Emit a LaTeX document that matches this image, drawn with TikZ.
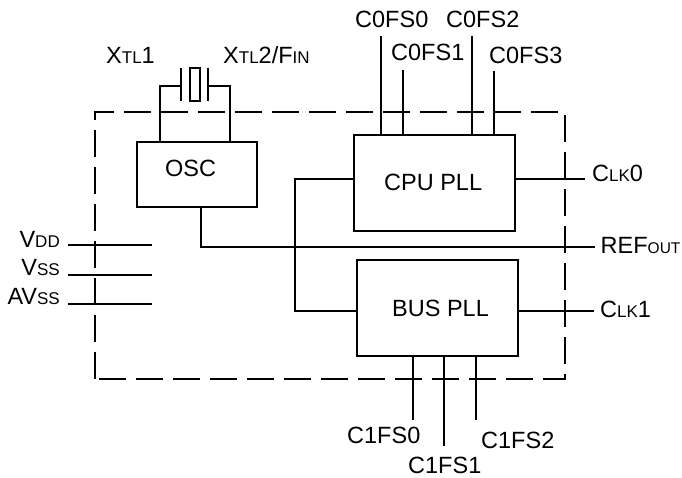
\documentclass[tikz,border=0pt]{standalone}
\usepackage{fontspec}
\setmainfont{Liberation Sans}
\newcommand{\smt}[1]{{\fontsize{17}{19}\selectfont #1}}
\newcommand{\smu}[1]{{\fontsize{15.5}{18}\selectfont #1}}
\tikzset{
  blockbox/.style={draw=black,line width=2.2pt,fill=none,inner sep=0pt},
  wire/.style={line width=1.6pt,draw=black},
  lbl/.style={inner sep=0pt,font=\fontsize{23.5}{26}\selectfont,text=black,anchor=base west},
  border/.style={draw=black,line width=1.6pt,dash pattern=on 27pt off 10pt}
}
\begin{document}
\begin{tikzpicture}[x=1pt,y=-1pt]
\useasboundingbox (0,0) rectangle (682,477);
\fill[white] (0,0) rectangle (682,477);
% dashed frame
\draw[border] (95,379) -- (95,112) -- (565,112) -- (565,379) -- cycle;
% blocks
\node[blockbox,minimum width=120pt,minimum height=65pt] (osc) at (197,174.5) {};
\node[lbl] (osctxt) at (165,176) {OSC};
\node[blockbox,minimum width=161pt,minimum height=96pt] (cpu) at (434.5,183) {};
\node[lbl] (cputxt) at (384,190) {CPU PLL};
\node[blockbox,minimum width=161pt,minimum height=96pt] (bus) at (437.5,308) {};
\node[lbl] (bustxt) at (392,316) {BUS PLL};
% crystal
\node[draw=black,line width=1.7pt,minimum width=10pt,minimum height=33pt,inner sep=0pt] (xtal) at (195,84.5) {};
\coordinate (pl) at (181,86); \coordinate (pr) at (208,86);
\draw[line width=1.7pt] (181,68) -- (181,101);
\draw[line width=1.7pt] (208,68) -- (208,101);
\draw[wire] (pl) -- (160,86) -- (160,142);
\draw[wire] (pr) -- (230,86) -- (230,142);
% top labels
\node[lbl] (x1) at (106,63) {X\smt{TL}1};
\node[lbl] (x2) at (223,63) {X\smt{TL}2/F\smt{IN}};
\node[lbl] (c0) at (355,27) {C0FS0};
\node[lbl] (c1) at (391,60) {C0FS1};
\node[lbl] (c2) at (446,27) {C0FS2};
\node[lbl] (c3) at (489,63) {C0FS3};
\draw[wire] (381,36) -- (381,135);
\draw[wire] (403,70) -- (403,135);
\draw[wire] (472,36) -- (472,135);
\draw[wire] (494,71) -- (494,135);
% right side
\node[lbl] (clk0) at (592,181) {C\smt{LK}0};
\node[lbl] (ref) at (600.5,253) {REF\smu{OUT}};
\node[lbl] (clk1) at (600,317) {C\smt{LK}1};
\draw[wire] (515,179) -- (585,179);
\draw[wire] (518,311) -- (594,311);
\draw[wire] (201,207) -- (201,247) -- (595,247);
\draw[wire] (354,179) -- (295,179) -- (295,311) -- (357,311);
% left side
\node[lbl,anchor=base east] (vdd) at (60,247) {V\smt{DD}};
\node[lbl,anchor=base east] (vss) at (60,275) {V\smt{SS}};
\node[lbl,anchor=base east] (avss) at (60,304) {AV\smt{SS}};
\draw[wire] (68,245) -- (152,245);
\draw[wire] (68,275) -- (152,275);
\draw[wire] (68,304) -- (152,304);
% bottom
\draw[wire] (413,356) -- (413,420);
\draw[wire] (444,356) -- (444,446);
\draw[wire] (476,356) -- (476,420);
\node[lbl] (d0) at (347,443) {C1FS0};
\node[lbl] (d1) at (408,473) {C1FS1};
\node[lbl] (d2) at (481,448) {C1FS2};
\end{tikzpicture}
\end{document}
